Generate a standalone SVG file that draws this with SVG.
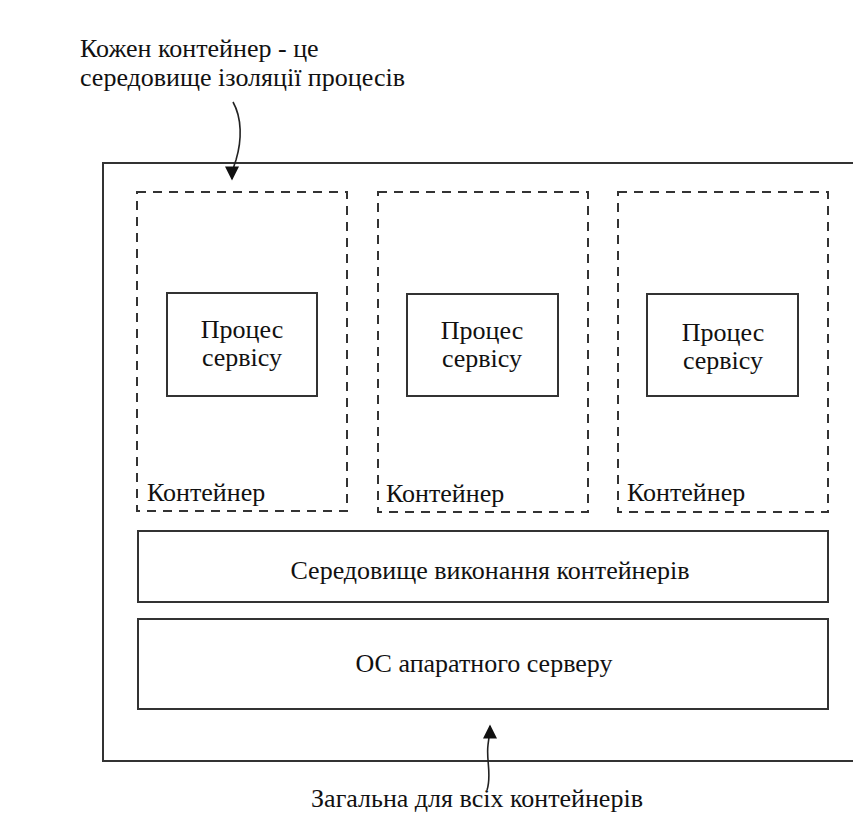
<svg xmlns="http://www.w3.org/2000/svg" width="853" height="816" viewBox="0 0 853 816" style="font-family:'Liberation Serif',serif">
  <style>
    text { font-family: 'Liberation Serif', serif; fill: #111; font-size: 26px; }
    .mid { text-anchor: middle; }
    .solid { fill: #fff; stroke: #333; stroke-width: 2; }
    .dash { fill: none; stroke: #333; stroke-width: 2; stroke-dasharray: 9 7; }
    .wire { fill: none; stroke: #222; stroke-width: 1.6; }
  </style>
  <defs>
    <marker id="head" viewBox="0 0 10 10" refX="9" refY="5" markerWidth="15" markerHeight="14" markerUnits="userSpaceOnUse" orient="auto">
      <path d="M0,0 L10,5 L0,10 Z" fill="#111"/>
    </marker>
  </defs>
  <rect width="853" height="816" fill="#fff"/>

  <!-- host machine frame (runs past the right edge) -->
  <g id="host">
    <path class="solid" d="M870,163 H103 V761 H870" fill="none"/>
  </g>

  <!-- containers -->
  <g id="container-1">
    <rect class="dash" x="137" y="192" width="210" height="319"/>
    <text x="147" y="501" font-family="Liberation Serif">Контейнер</text>
  </g>
  <g id="container-2">
    <rect class="dash" x="378" y="192" width="210" height="320"/>
    <text x="386" y="502" font-family="Liberation Serif">Контейнер</text>
  </g>
  <g id="container-3">
    <rect class="dash" x="618" y="192" width="210" height="320"/>
    <text x="627" y="501" font-family="Liberation Serif">Контейнер</text>
  </g>

  <!-- service processes -->
  <g id="process-1">
    <rect class="solid" x="167" y="293" width="150" height="103"/>
    <text class="mid" x="242" y="338">Процес</text>
    <text class="mid" x="242" y="366">сервісу</text>
  </g>
  <g id="process-2">
    <rect class="solid" x="407" y="294" width="151" height="102"/>
    <text class="mid" x="482" y="339">Процес</text>
    <text class="mid" x="482" y="367">сервісу</text>
  </g>
  <g id="process-3">
    <rect class="solid" x="647" y="294" width="151" height="102"/>
    <text class="mid" x="723" y="341">Процес</text>
    <text class="mid" x="723" y="369">сервісу</text>
  </g>

  <!-- runtime and host OS layers -->
  <g id="runtime">
    <rect class="solid" x="138" y="531" width="690" height="71"/>
    <text class="mid" x="490" y="579">Середовище виконання контейнерів</text>
  </g>
  <g id="host-os">
    <rect class="solid" x="138" y="619" width="690" height="90"/>
    <text class="mid" x="484" y="672">ОС апаратного серверу</text>
  </g>

  <!-- callouts -->
  <g id="note-top">
    <text x="80" y="57">Кожен контейнер - це</text>
    <text x="80" y="86">середовище ізоляції процесів</text>
  </g>
  <g id="note-bottom">
    <text class="mid" x="477" y="807">Загальна для всіх контейнерів</text>
  </g>

  <g id="connectors">
    <path class="wire" d="M233,102 C242,118 242,140 236,160 C233,168 232,174 232,179" marker-end="url(#head)"/>
    <path class="wire" d="M487,790 C492,775 486,760 488,745 C489,737 490,731 490,726" marker-end="url(#head)"/>
  </g>
</svg>
